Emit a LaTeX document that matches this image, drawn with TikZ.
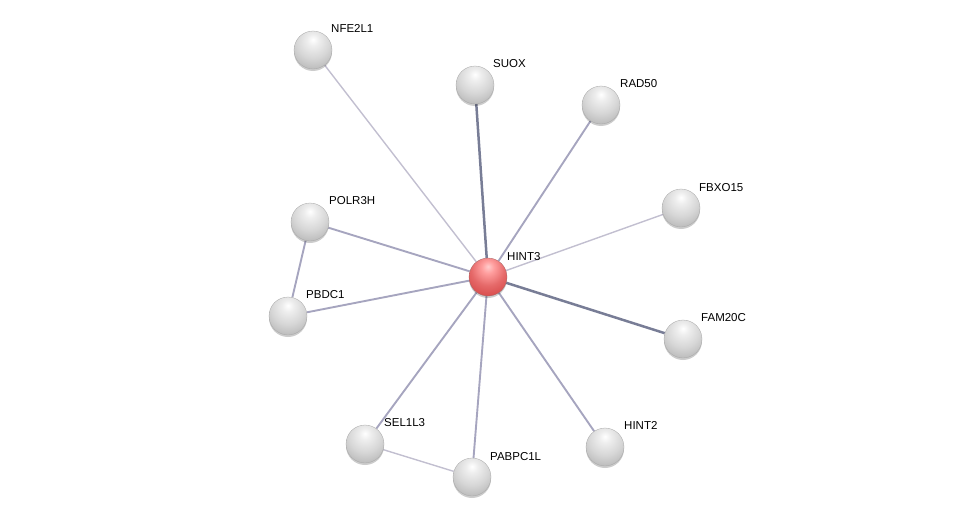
\documentclass[tikz,border=0pt]{standalone}
\usepackage{fontspec}
\setmainfont{Liberation Sans}
\usetikzlibrary{backgrounds,shadows}
\definecolor{thinc}{HTML}{C2BFD0}
\definecolor{midc}{HTML}{A6A5BF}
\definecolor{thickc}{HTML}{787D96}
\pgfdeclareradialshading{greyball}{\pgfpoint{0bp}{14bp}}{%
  color(0bp)=(white); color(8bp)=(white!93!black); color(22bp)=(white!84!black);
  color(34bp)=(white!74!black); color(44bp)=(white!60!black); color(54bp)=(white!48!black); color(64bp)=(white!42!black); color(100bp)=(white!42!black)}
\pgfdeclareradialshading{redball}{\pgfpoint{0bp}{14bp}}{%
  color(0bp)=(white!80!red); color(8bp)=(white!62!red); color(22bp)=(white!46!red!90!black);
  color(34bp)=(white!36!red!85!black); color(44bp)=(white!20!red!72!black); color(54bp)=(red!58!black); color(64bp)=(red!48!black); color(100bp)=(red!48!black)}
\begin{document}
\begin{tikzpicture}[x=1pt,y=-1pt,
  prot/.style={circle,minimum size=38pt,inner sep=0pt,shading=greyball,draw=black!35,line width=0.3pt,
    drop shadow={shadow xshift=0pt,shadow yshift=-2pt,opacity=0.2,fill=black}},
  hub/.style={prot,shading=redball,draw=red!40!black!60},
  lab/.style={anchor=base west,font=\fontsize{11.5}{13}\selectfont,inner sep=0pt},
  thin/.style={draw=thinc,line width=1.4pt},
  mid/.style={draw=midc,line width=1.9pt},
  thick/.style={draw=thickc,line width=2.5pt}]
\useasboundingbox (0,0) rectangle (975,522);
\node[hub] (HINT3) at (488,277) {};
\node[prot] (NFE2L1) at (313,50) {};
\node[prot] (SUOX) at (475,85) {};
\node[prot] (RAD50) at (601,105) {};
\node[prot] (FBXO15) at (681,208) {};
\node[prot] (FAM20C) at (683,339) {};
\node[prot] (HINT2) at (605,447) {};
\node[prot] (PABPC1L) at (472,477) {};
\node[prot] (SEL1L3) at (365,444) {};
\node[prot] (PBDC1) at (288,316) {};
\node[prot] (POLR3H) at (310,222) {};
\begin{scope}[on background layer]
\foreach \n/\s in {NFE2L1/thin,FBXO15/thin,RAD50/mid,HINT2/mid,PABPC1L/mid,SEL1L3/mid,PBDC1/mid,POLR3H/mid,SUOX/thick,FAM20C/thick}{
  \path[\s] (HINT3) -- (\n);
}
\path[mid] (POLR3H) -- (PBDC1);
\path[thin] (SEL1L3) -- (PABPC1L);
\end{scope}
\node[lab] (l1) at (507,260) {HINT3};
\node[lab] (l2) at (331,32) {NFE2L1};
\node[lab] (l3) at (493,67) {SUOX};
\node[lab] (l4) at (620,87) {RAD50};
\node[lab] (l5) at (699,191) {FBXO15};
\node[lab] (l6) at (701,321) {FAM20C};
\node[lab] (l7) at (624,429) {HINT2};
\node[lab] (l8) at (490,460) {PABPC1L};
\node[lab] (l9) at (384,426) {SEL1L3};
\node[lab] (l10) at (306,298) {PBDC1};
\node[lab] (l11) at (329,204) {POLR3H};
\end{tikzpicture}
\end{document}
